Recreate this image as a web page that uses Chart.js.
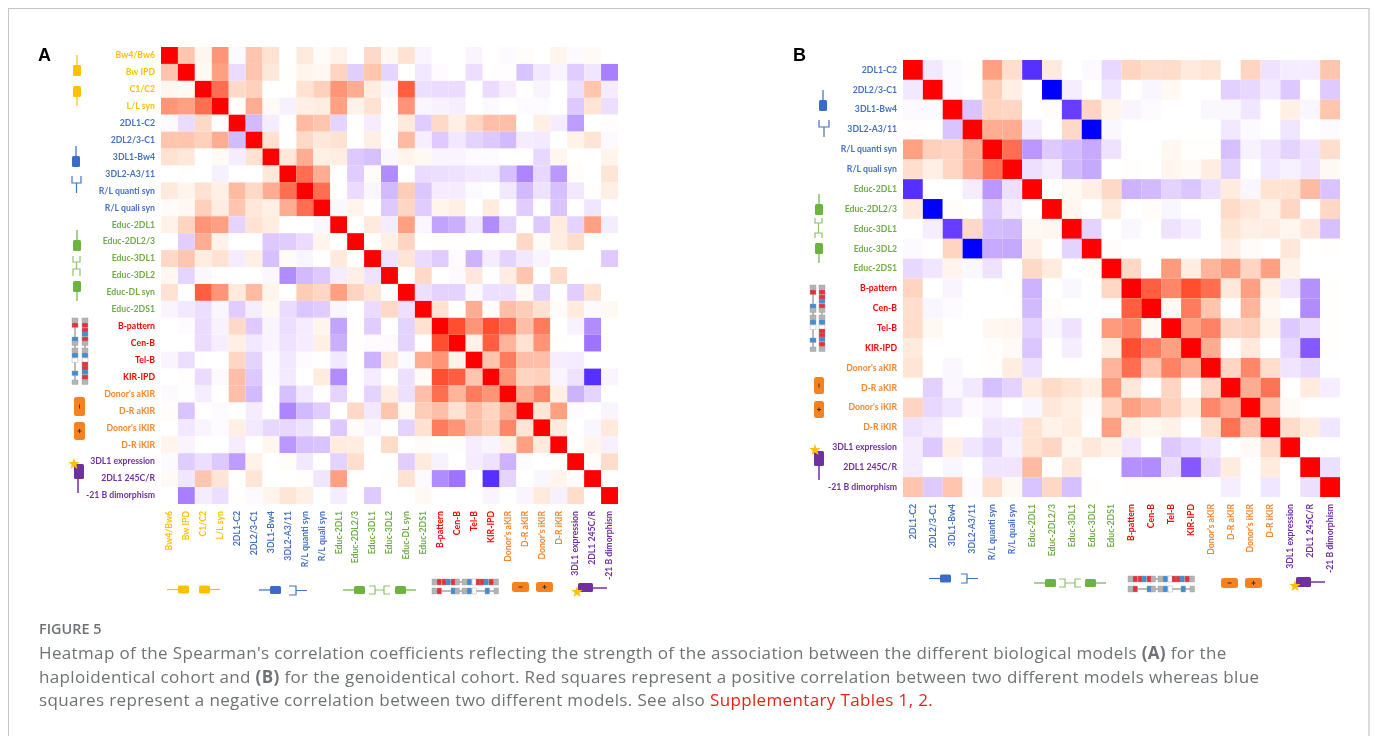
<!DOCTYPE html>
<html>
<head>
<meta charset="utf-8">
<title>Figure 5</title>
<script src="https://cdn.jsdelivr.net/npm/chart.js@4"></script>
<style>
  html, body { margin: 0; padding: 0; background: #fff; }
  body { width: 1375px; height: 736px; position: relative; overflow: hidden; font-family: "Open Sans", sans-serif; }
  #frame { position: absolute; left: 8px; top: 8px; width: 1362px; height: 800px; border: 1px solid #c4c4c4; border-right: 2px solid #dcdcdc; box-sizing: border-box; }
  canvas { position: absolute; }
  #icons { position: absolute; left: 0; top: 0; }
  .panel { position: absolute; font: bold 18px "Liberation Sans", sans-serif; color: #000; }
  #figno { position: absolute; left: 39px; top: 619px; font-size: 14.4px; font-weight: 600; color: #6e7276; }
  #caption { position: absolute; left: 39px; top: 641px; width: 1310px; font-size: 17px; letter-spacing: .36px; line-height: 23.5px; color: #6e7276; margin: 0; white-space: nowrap; }
  #caption a { color: #e2231a; text-decoration: none; }
</style>
</head>
<body>
<div id="frame"></div>
<canvas id="chartA" style="left:0;top:20px"></canvas>
<canvas id="chartB" style="left:760px;top:40px"></canvas>
<svg id="icons" width="1375" height="736" xmlns="http://www.w3.org/2000/svg"></svg>
<div class="panel" style="left:38px;top:45px">A</div>
<div class="panel" style="left:793px;top:45px">B</div>
<div id="figno">FIGURE 5</div>
<p id="caption">Heatmap of the Spearman's correlation coefficients reflecting the strength of the association between the different biological models <b>(A)</b> for the<br>haploidentical cohort and <b>(B)</b> for the genoidentical cohort. Red squares represent a positive correlation between two different models whereas blue<br>squares represent a negative correlation between two different models. See also <a>Supplementary Tables 1, 2.</a></p>

<script>
// Colours of the label groups
const YELLOW = '#FFC000', BLUE = '#4472C4', GREEN = '#70AD47', RED = '#FF0000', ORANGE = '#F4862F', PURPLE = '#7030A0';

const labelsA = ['Bw4/Bw6', 'Bw IPD', 'C1/C2', 'L/L syn', '2DL1-C2', '2DL2/3-C1', '3DL1-Bw4', '3DL2-A3/11', 'R/L quanti syn', 'R/L quali syn',
  'Educ-2DL1', 'Educ-2DL2/3', 'Educ-3DL1', 'Educ-3DL2', 'Educ-DL syn', 'Educ-2DS1', 'B-pattern', 'Cen-B', 'Tel-B', 'KIR-IPD',
  "Donor's aKIR", 'D-R aKIR', "Donor's iKIR", 'D-R iKIR', '3DL1 expression', '2DL1 245C/R', '-21 B dimorphism'];
const labelsB = ['2DL1-C2', '2DL2/3-C1', '3DL1-Bw4', '3DL2-A3/11', 'R/L quanti syn', 'R/L quali syn',
  'Educ-2DL1', 'Educ-2DL2/3', 'Educ-3DL1', 'Educ-3DL2', 'Educ-2DS1', 'B-pattern', 'Cen-B', 'Tel-B', 'KIR-IPD',
  "Donor's aKIR", 'D-R aKIR', "Donor's iKIR", 'D-R iKIR', '3DL1 expression', '2DL1 245C/R', '-21 B dimorphism'];

// Upper triangle of each matrix, one row per label, starting at the diagonal. Units: correlation x 10
const rowsA = [
  [10, 3.5, .7, 5.5, -.3, 3.5, 2, 0, 1.5, .3, 1, 0, 2.5, .6, 2, -.6, 0, 0, -.6, 0, -.3, .2, 0, .8, -.3, .4, 0],
  [10, .5, 5, -1.8, 3.5, 1.7, .1, .8, .6, 2.8, -2.5, 3.5, -2.2, 0, -1.2, -.2, 0, -1.7, .1, -.1, -3, -1.2, -.6, -2.6, -1.3, -6],
  [10, 7, 2.5, 3, 0, 0, 2, 3, 5.5, 4.5, 1.3, -.4, 7.5, -1.7, -1.8, -1.8, 0, -1.8, -.9, 0, -.6, 0, -1.7, 3.5, -1],
  [10, .1, 4.5, .4, -.8, 1.2, 1.3, 5, 1, 2, 0, 5.5, -.5, -.7, -.9, 0, -.3, 0, -.2, -.2, 0, -2.8, 1.8, -1.7],
  [10, -3.5, -1, 0, 4, 3.5, -2.2, 0, -1, 0, 1.5, -2.6, 2.5, 1.2, 2.7, 3.8, 3.8, 0, 1.2, -1, -4.8, 0, .1],
  [10, 2, 0, 2.5, 1.7, 2, 0, 1.2, 0, 4, -.9, -2.7, -1.2, -2.3, -2.8, -3.5, -1, -1.1, 0, 1, 1.8, -.3],
  [10, 1.7, 4.5, 1.2, 1.3, -2.8, -3.2, -.4, .8, .5, -.6, -.6, -.2, -.2, 0, 0, -2, .7, 0, 0, .8],
  [10, 7, 4.5, 0, -2.6, .3, -5.5, 0, -1.8, -1.7, -1.5, -1.2, -1.1, -3.2, -5.8, -2, -5, .2, 0, 1.8],
  [10, 7, 0, -1.8, -.5, -3.5, 3.2, -2.9, -1, -1, -.2, 0, -1.2, -3.5, -1.5, -3.2, -1.2, .1, 1.2],
  [10, -.4, .8, 0, -2.8, 2.7, -2.6, .8, 1.2, 0, 1.4, 0, -2.6, 0, -3, 0, -1.3, 0],
  [10, 0, 1.5, -1, 5, -.5, -4.5, -4, -1.2, -5.5, -2.2, 0, -2.8, 1.4, -2.3, 5, -1],
  [10, 0, 1.2, 2.8, 0, .1, .1, 0, 0, 0, 2.5, .3, 1.3, 2.2, 0, 0],
  [10, -1.5, 1.8, -1.8, -2.6, -.2, -3.8, -1, -2.3, -1.2, -.6, 0, 0, 0, -2.7],
  [10, 0, 2.5, 0, -.3, 1.6, 0, 1.3, 3.5, 0, 2.4, 0, .1, 0],
  [10, -1.6, -2.3, -2.3, -.3, -1.6, -1.6, .4, -2.3, 0, -2.5, 2, 0],
  [10, 2, 0, 4.5, .3, 3.8, 3.2, 2, .3, 1.5, -.3, .5],
  [10, 8, 5.5, 8, 7, 3.8, 6.5, 0, -.7, -5.5, 0],
  [10, 1, 7.5, 4.2, 2, 5.5, .1, 0, -6.5, 0],
  [10, 3.5, 6.5, 3.8, 3.8, -.9, -1, 0, 0],
  [10, 5.5, 2.8, 3, -.6, -1.5, -9, -.6],
  [10, 4.5, 6, 1.2, -3.8, -2.2, 0],
  [10, 1.8, 5, -.2, 0, -.6],
  [10, 1.5, 0, -.5, 1.5],
  [10, .1, .8, -.8],
  [10, .2, 2.3],
  [10, 0],
  [10],
];
const rowsB = [
  [10, -1.2, -.3, .1, 5, 2.2, -9, 1.5, 0, -.3, -2, 2.8, 2.2, 2.3, 1.5, 1.8, 0, 2.8, -1.5, -1, -1, 3.5],
  [10, -.3, 0, 3, 1.2, 0, -10, -.9, 0, -1.3, 0, -.5, .5, 0, 0, -2.4, -2, -1.1, -2.8, 0, -2.7],
  [10, -3, 2.8, 2.7, 0, .2, -8.5, 2.8, .8, -.6, -.2, 0, 0, -.4, -.4, -1.3, 0, 1.2, -.5, 3.5],
  [10, 4.5, 4.5, -1, 0, 2.5, -10, -.4, 0, 0, 0, 0, 0, -1.2, -.3, 0, -1.3, 0, -.2],
  [10, 7, -5, -2.7, -3.3, -4.2, -1.5, 0, 0, .6, .1, .1, -3.2, -.7, -1.4, -2.3, -1.4, 2.2],
  [10, -1.6, -.9, -3.5, -4.3, 0, .1, 0, .7, .4, 1.3, -2.3, 0, -1.2, -.8, -1.4, .5],
  [10, 0, .5, 1.2, 2.5, -3.8, -3.5, -2.3, -2.9, -1.6, 1.4, -.5, 1.9, 2, 4, -3],
  [10, .7, 0, 1.4, 0, .2, -.5, 0, 0, 2.4, 1.7, 1, 2.7, 0, 2.6],
  [10, -2.3, 0, -.4, 0, -1.5, -.9, 0, 1.8, 1.2, 1.3, .7, 1.6, -3.2],
  [10, .2, 0, 0, 0, 0, 0, 1.2, .3, 0, 1.6, 0, .1],
  [10, 2.6, -.1, 5.2, 1.3, 4.2, 5.2, 2.8, 5, 1, 0, 0],
  [10, 7.5, 6, 8, 7, 1.6, 5, 1.2, -1.4, -5.3, .1],
  [10, .5, 6.5, 3.5, 0, 4.2, .6, 0, -5.5, .1],
  [10, 5, 6.2, 2.7, 3, 1, -2.8, -1.8, .1],
  [10, 4.5, .1, 1.5, 0, -2, -7.5, .1],
  [10, 2.7, 6, 2.2, -1.4, -2, 0],
  [10, 4.5, 6.8, 0, 1.4, -.9],
  [10, 3.7, .4, 0, 0],
  [10, 2.4, 1.4, -1.3],
  [10, 0, 0],
  [10, -1.6],
  [10],
];

// Colour ramps from 0 to 1 in steps of 0.1
const rampRed = [[255,255,255],[255,242,232],[255,226,210],[255,208,188],[255,186,162],[255,160,130],[255,135,105],[255,110,80],[255,78,48],[255,45,22],[255,0,0]];
const rampBlue = [[255,255,255],[245,236,255],[232,216,255],[218,196,255],[202,175,255],[186,152,255],[168,128,255],[146,102,255],[120,76,255],[86,48,255],[0,0,255]];

function cellColor(v) {
  const ramp = v < 0 ? rampBlue : rampRed;
  const a = Math.abs(v);
  const i = Math.min(Math.floor(a), 9);
  const f = a - i;
  const c = ramp[i].map((n, k) => Math.round(n + (ramp[i + 1][k] - n) * f));
  return `rgb(${c[0]},${c[1]},${c[2]})`;
}

function labelColor(label) {
  if (/^(Bw|C1|L\/L)/.test(label)) return YELLOW;
  if (/^Educ/.test(label)) return GREEN;
  if (/^(B-pattern|Cen-B|Tel-B|KIR-IPD)/.test(label)) return RED;
  if (/aKIR|iKIR/.test(label)) return ORANGE;
  if (/^(3DL1 expression|2DL1 245C|-21)/.test(label)) return PURPLE;
  return BLUE;
}

function cells(labels, rows) {
  const pts = [];
  rows.forEach((row, i) => row.forEach((v, k) => {
    const j = i + k;
    pts.push({x: labels[j], y: labels[i], v: v});
    if (j !== i) pts.push({x: labels[i], y: labels[j], v: v});
  }));
  return pts;
}

// left/top/right/bottom are the plot edges inside the canvas
function heatmap(id, labels, rows, w, h, left, top, right, bottom) {
  const canvas = document.getElementById(id);
  canvas.width = w; canvas.height = h;
  canvas.style.width = w + 'px'; canvas.style.height = h + 'px';
  const font = {family: 'Lato', size: 8.7, weight: 'bold'};
  const tickColor = ctx => labelColor(labels[ctx.index]);
  const cellRadius = ctx => ctx.chart.chartArea ? ctx.chart.chartArea.width / labels.length * Math.SQRT1_2 : 1;
  return new Chart(canvas.getContext('2d'), {
    type: 'scatter',
    data: {
      datasets: [{
        data: cells(labels, rows),
        pointStyle: 'rect',
        borderWidth: 0,
        backgroundColor: ctx => cellColor(ctx.raw.v),
        radius: cellRadius,
        hoverRadius: cellRadius,
      }]
    },
    options: {
      responsive: false,
      animation: false,
      layout: {padding: {left: 0, top: top, right: w - right, bottom: 0}},
      plugins: {legend: {display: false}, tooltip: {enabled: false}},
      scales: {
        x: {
          type: 'category', labels: labels, offset: true,
          grid: {display: false, drawTicks: false}, border: {display: false},
          afterFit: s => { s.height = h - bottom; },
          ticks: {autoSkip: false, minRotation: 90, maxRotation: 90, padding: 7, font: font, color: tickColor},
        },
        y: {
          type: 'category', labels: labels, offset: true,
          grid: {display: false, drawTicks: false}, border: {display: false},
          afterFit: s => { s.width = left; },
          ticks: {autoSkip: false, padding: 6, font: font, color: tickColor},
        },
      },
    },
  });
}

heatmap('chartA', labelsA, rowsA, 640, 580, 161, 27, 618, 484);
heatmap('chartB', labelsB, rowsB, 600, 560, 143, 20, 580, 457);

// Small gene symbols around the axes
const svg = [];
const line = (x1, y1, x2, y2, c, w) => svg.push(`<line x1="${x1}" y1="${y1}" x2="${x2}" y2="${y2}" stroke="${c}" stroke-width="${w || 1.2}"/>`);
const box = (x, y, w, h, c, r) => svg.push(`<rect x="${x}" y="${y}" width="${w}" height="${h}" rx="${r === undefined ? 1.5 : r}" fill="${c}"/>`);
const path = (d, c) => svg.push(`<path d="${d}" fill="none" stroke="${c}" stroke-width="1.2"/>`);

function ligandV(x, y, up, c) { // y is the box top
  box(x, y, 8, 11, c);
  if (up) line(x + 4, y - 10, x + 4, y, c); else line(x + 4, y + 11, x + 4, y + 20, c);
}
function ligandH(x, y, left, c) { // x is the box left, y the middle
  box(x, y - 4, 11, 8, c);
  if (left) line(x - 11, y, x, y, c); else line(x + 11, y, x + 21, y, c);
}
function star(cx, cy) {
  const p = [];
  for (let i = 0; i < 10; i++) {
    const r = i % 2 ? 2.4 : 6, a = -Math.PI / 2 + i * Math.PI / 5;
    p.push((cx + r * Math.cos(a)).toFixed(1) + ',' + (cy + r * Math.sin(a)).toFixed(1));
  }
  svg.push(`<polygon points="${p.join(' ')}" fill="${YELLOW}"/>`);
}
const G = '#b4b4b4', R = '#e8303a', L = '#3f8fd8', W = '#ffffff';
const chromSparse = [[0,G],[5,R],[19,L],[23,G],[30,G],[35,L],[40,W],[53,L],[62,G]];
const chromDense = [[0,G],[5,R],[10,R],[14,L],[19,R],[23,G],[30,G],[35,L],[40,W],[44,R],[48,R],[52,L],[57,R],[62,G]];
function chromV(x, y, parts) {
  line(x, y, x, y + 66, '#555', 0.8);
  parts.forEach(p => svg.push(`<rect x="${x - 3}" y="${y + p[0]}" width="6" height="4.5" fill="${p[1]}" stroke="#999" stroke-width=".4"/>`));
}
function chromH(x, y, parts) {
  line(x, y, x + 66, y, '#555', 0.8);
  parts.forEach(p => svg.push(`<rect x="${x + p[0]}" y="${y - 3}" width="4.5" height="6" fill="${p[1]}" stroke="#999" stroke-width=".4"/>`));
}
function orangeBox(x, y, w, h, plus) {
  box(x, y, w, h, '#F58220', 2.5);
  const cx = x + w / 2, cy = y + h / 2;
  line(cx - 2, cy, cx + 2, cy, '#333', 1);
  if (plus) line(cx, cy - 2, cx, cy + 2, '#333', 1);
}
function orangeBoxV(x, y, w, h, plus) {
  box(x, y, w, h, '#F58220', 2.5);
  const cx = x + w / 2, cy = y + h / 2;
  line(cx, cy - 2, cx, cy + 2, '#333', 1);
  if (plus) line(cx - 2, cy, cx + 2, cy, '#333', 1);
}

// Panel A, left side
ligandV(73, 65, true, YELLOW);
ligandV(73, 86, false, YELLOW);
ligandV(72, 156, true, '#3A6BC9');
path('M72 176 V183 H81 V176 M76.500 183 V193', BLUE);
ligandV(73, 240, true, '#6DB33F');
path('M73 256 V262 H80 V256 M76.500 262 V269 M73 276 V269 H80 V276', '#8CC16A');
ligandV(73, 281, false, '#6DB33F');
chromV(75, 318, chromSparse);
chromV(85, 318, chromDense);
orangeBoxV(74, 397, 11, 19, false);
orangeBoxV(74, 422, 11, 18, true);
box(74, 464, 10, 15, '#7030A0');
line(78, 479, 78, 493, '#7030A0', 1.5);
star(74, 464);

// Panel A, below
ligandH(178, 589.5, true, YELLOW);
ligandH(199, 589.5, false, YELLOW);
ligandH(270, 590, true, '#3A6BC9');
path('M289 586 H296 V595 H289 M296 590.500 H307', BLUE);
ligandH(354, 590, true, '#6DB33F');
path('M369 586 H375 V594 H369 M375 590 H384 M390 586 H384 V594 H390', '#8CC16A');
ligandH(395, 590, false, '#6DB33F');
chromH(432, 582, chromDense);
chromH(432, 591, chromSparse);
orangeBox(512, 582, 17, 10, false);
orangeBox(536, 582, 17, 10, true);
box(578, 583, 15, 9, '#7030A0');
line(593, 588, 607, 588, '#7030A0', 1.5);
star(577, 592);

// Panel B, left side
ligandV(819, 100, true, '#3A6BC9');
path('M819 120 V127 H829 V120 M824 127 V137', BLUE);
ligandV(815, 204, true, '#6DB33F');
path('M815 218 V223 H822 V218 M818.500 223 V233 M815 238 V233 H822 V238', '#8CC16A');
ligandV(815, 243, false, '#6DB33F');
chromV(813, 285, chromSparse);
chromV(822, 285, chromDense);
orangeBoxV(814, 377, 10, 17, false);
orangeBoxV(814, 401, 10, 17, true);
box(814, 451, 10, 15, '#7030A0');
line(819, 466, 819, 480, '#7030A0', 1.5);
star(815, 450);

// Panel B, below
ligandH(940, 578.5, true, '#3A6BC9');
path('M961 574 H967 V583 H961 M967 578.500 H978', BLUE);
ligandH(1045, 583, true, '#6DB33F');
path('M1059 579 H1065 V587 H1059 M1065 583 H1075 M1081 579 H1075 V587 H1081', '#8CC16A');
ligandH(1085, 583, false, '#6DB33F');
chromH(1128, 579, chromDense);
chromH(1128, 589, chromSparse);
orangeBox(1221, 578, 17, 10, false);
orangeBox(1245, 578, 17, 10, true);
box(1296, 577, 15, 10, '#7030A0');
line(1311, 582, 1325, 582, '#7030A0', 1.5);
star(1295, 586);

document.getElementById('icons').innerHTML = svg.join('');
</script>
</body>
</html>
